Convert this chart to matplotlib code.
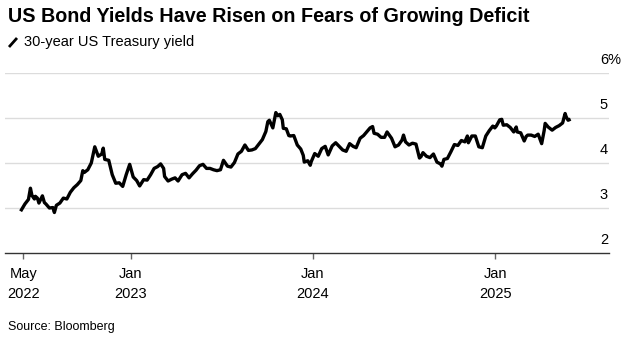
import matplotlib
matplotlib.use('Agg')
import matplotlib.pyplot as plt
from matplotlib.lines import Line2D
import pandas as pd

# 30-year US Treasury yield, %
dates_2022 = ['2022-05-27', '2022-06-03', '2022-06-10', '2022-06-14', '2022-06-17', '2022-06-22',
              '2022-06-24', '2022-06-28', '2022-07-01', '2022-07-08', '2022-07-12', '2022-07-15',
              '2022-07-22', '2022-07-29', '2022-08-01', '2022-08-05', '2022-08-12', '2022-08-19',
              '2022-08-26', '2022-09-02', '2022-09-09', '2022-09-16', '2022-09-23', '2022-09-27',
              '2022-09-30', '2022-10-07', '2022-10-14', '2022-10-21', '2022-10-28', '2022-11-04',
              '2022-11-07', '2022-11-10', '2022-11-18', '2022-11-25', '2022-12-02', '2022-12-09',
              '2022-12-16', '2022-12-23', '2022-12-30']
yields_2022 = [2.96, 3.09, 3.19, 3.44, 3.28, 3.20,
               3.26, 3.22, 3.11, 3.27, 3.12, 3.09,
               3.00, 3.01, 2.90, 3.06, 3.11, 3.22,
               3.20, 3.35, 3.45, 3.52, 3.61, 3.83,
               3.79, 3.85, 4.00, 4.36, 4.15, 4.20,
               4.33, 4.08, 4.06, 3.74, 3.55, 3.56,
               3.48, 3.74, 3.97]

dates_2023 = ['2023-01-06', '2023-01-13', '2023-01-19', '2023-01-27', '2023-02-03', '2023-02-10',
              '2023-02-17', '2023-02-24', '2023-03-02', '2023-03-08', '2023-03-10', '2023-03-17',
              '2023-03-24', '2023-03-31', '2023-04-06', '2023-04-14', '2023-04-21', '2023-04-28',
              '2023-05-05', '2023-05-12', '2023-05-19', '2023-05-26', '2023-06-02', '2023-06-09',
              '2023-06-16', '2023-06-23', '2023-06-30', '2023-07-06', '2023-07-14', '2023-07-21',
              '2023-07-28', '2023-08-04', '2023-08-11', '2023-08-18', '2023-08-25', '2023-09-01',
              '2023-09-08', '2023-09-15', '2023-09-22', '2023-09-29', '2023-10-03', '2023-10-06',
              '2023-10-13', '2023-10-19', '2023-10-23', '2023-10-27', '2023-11-01', '2023-11-03',
              '2023-11-09', '2023-11-14', '2023-11-17', '2023-11-24', '2023-12-01', '2023-12-08',
              '2023-12-13', '2023-12-15', '2023-12-22', '2023-12-27', '2023-12-29']
yields_2023 = [3.69, 3.61, 3.49, 3.63, 3.62, 3.74,
               3.88, 3.92, 3.98, 3.88, 3.70, 3.60,
               3.64, 3.67, 3.60, 3.74, 3.77, 3.67,
               3.76, 3.84, 3.94, 3.97, 3.88, 3.88,
               3.85, 3.83, 3.85, 4.06, 3.93, 3.91,
               4.01, 4.20, 4.26, 4.40, 4.28, 4.29,
               4.32, 4.42, 4.52, 4.70, 4.92, 4.95,
               4.78, 5.12, 5.05, 5.08, 4.96, 4.77,
               4.76, 4.61, 4.60, 4.61, 4.40, 4.31,
               4.17, 4.02, 4.05, 3.95, 4.03]

dates_2024 = ['2024-01-05', '2024-01-12', '2024-01-19', '2024-01-26', '2024-02-01', '2024-02-09',
              '2024-02-16', '2024-02-23', '2024-03-01', '2024-03-08', '2024-03-15', '2024-03-22',
              '2024-03-28', '2024-04-05', '2024-04-12', '2024-04-19', '2024-04-25', '2024-04-30',
              '2024-05-03', '2024-05-10', '2024-05-17', '2024-05-24', '2024-05-29', '2024-06-07',
              '2024-06-14', '2024-06-21', '2024-06-28', '2024-07-01', '2024-07-05', '2024-07-12',
              '2024-07-19', '2024-07-26', '2024-08-02', '2024-08-05', '2024-08-09', '2024-08-16',
              '2024-08-23', '2024-08-30', '2024-09-06', '2024-09-13', '2024-09-16', '2024-09-20',
              '2024-09-27', '2024-10-04', '2024-10-11', '2024-10-18', '2024-10-25', '2024-11-01',
              '2024-11-06', '2024-11-08', '2024-11-15', '2024-11-22', '2024-11-29', '2024-12-06',
              '2024-12-13', '2024-12-20', '2024-12-27', '2024-12-31']
yields_2024 = [4.21, 4.15, 4.32, 4.37, 4.18, 4.38,
               4.45, 4.37, 4.29, 4.26, 4.43, 4.37,
               4.34, 4.55, 4.61, 4.70, 4.78, 4.81,
               4.66, 4.64, 4.57, 4.57, 4.69, 4.55,
               4.36, 4.40, 4.51, 4.62, 4.47, 4.40,
               4.44, 4.42, 4.11, 4.14, 4.23, 4.15,
               4.12, 4.20, 4.02, 3.98, 3.93, 4.08,
               4.10, 4.25, 4.41, 4.39, 4.50, 4.47,
               4.60, 4.45, 4.60, 4.60, 4.36, 4.34,
               4.60, 4.72, 4.82, 4.78]

dates_2025 = ['2025-01-03', '2025-01-10', '2025-01-14', '2025-01-17', '2025-01-24', '2025-01-31',
              '2025-02-07', '2025-02-12', '2025-02-14', '2025-02-21', '2025-02-28', '2025-03-04',
              '2025-03-07', '2025-03-14', '2025-03-21', '2025-03-28', '2025-04-04', '2025-04-09',
              '2025-04-11', '2025-04-17', '2025-04-25', '2025-05-02', '2025-05-09', '2025-05-16',
              '2025-05-21', '2025-05-23', '2025-05-27', '2025-05-29']
yields_2025 = [4.82, 4.96, 4.97, 4.84, 4.85, 4.79,
               4.69, 4.80, 4.69, 4.67, 4.49, 4.59,
               4.62, 4.62, 4.59, 4.64, 4.43, 4.72,
               4.88, 4.80, 4.73, 4.79, 4.83, 4.89,
               5.10, 5.03, 4.95, 4.96]

tick_dates = ['2022-05-31', '2023-01-01', '2024-01-01', '2025-01-01']
tick_labels = ['May\n2022', 'Jan\n2023', 'Jan\n2024', 'Jan\n2025']
y_ticks = [2, 3, 4, 5, 6]
y_labels = ['2', '3', '4', '5', '6%']

dates = pd.to_datetime(dates_2022 + dates_2023 + dates_2024 + dates_2025)
yields = yields_2022 + yields_2023 + yields_2024 + yields_2025

plt.rcParams['font.family'] = ['Liberation Sans', 'DejaVu Sans']

fig = plt.figure(figsize=(6.31, 3.48), dpi=100)
ax = fig.add_axes([5 / 631, 95 / 348, 604 / 631, 180 / 348])

# light gridlines, the bottom one is the axis itself
for v in y_ticks[1:]:
    ax.axhline(v, color='#dcdcdc', lw=1.0, zorder=1)

ax.plot(dates, yields, color='black', lw=2.4, solid_joinstyle='round', zorder=3)

ax.set_ylim(2, 6)
ax.set_xlim(pd.Timestamp('2022-04-24'), pd.Timestamp('2025-08-17'))

for s in ['top', 'right', 'left']:
    ax.spines[s].set_visible(False)
ax.spines['bottom'].set_color('#333333')
ax.spines['bottom'].set_linewidth(1.0)

ax.set_yticks([])
ax.set_xticks(pd.to_datetime(tick_dates))
ax.set_xticklabels(tick_labels, fontsize=10.5, linespacing=1.55)
ax.tick_params(axis='x', length=4, width=1, color='#666666', pad=6)

# y labels sit above their gridlines at the right edge
for v, lab in zip(y_ticks, y_labels):
    ax.annotate(lab, xy=(0.985, v), xycoords=('axes fraction', 'data'),
                xytext=(0, 4), textcoords='offset points',
                ha='left', va='bottom', fontsize=10.5, annotation_clip=False)

fig.text(8 / 631, 1 - 17 / 348, 'US Bond Yields Have Risen on Fears of Growing Deficit',
         fontsize=14.2, fontweight='bold', ha='left', va='center')
fig.add_artist(Line2D([9 / 631, 17 / 631], [1 - 47 / 348, 1 - 38 / 348],
                      color='black', lw=2.0, solid_capstyle='butt',
                      transform=fig.transFigure))
fig.text(24 / 631, 1 - 42 / 348, '30-year US Treasury yield', fontsize=10.5,
         ha='left', va='center')
fig.text(8 / 631, 1 - 327 / 348, 'Source: Bloomberg', fontsize=9,
         ha='left', va='center')

fig.savefig('out.png', dpi=100)
